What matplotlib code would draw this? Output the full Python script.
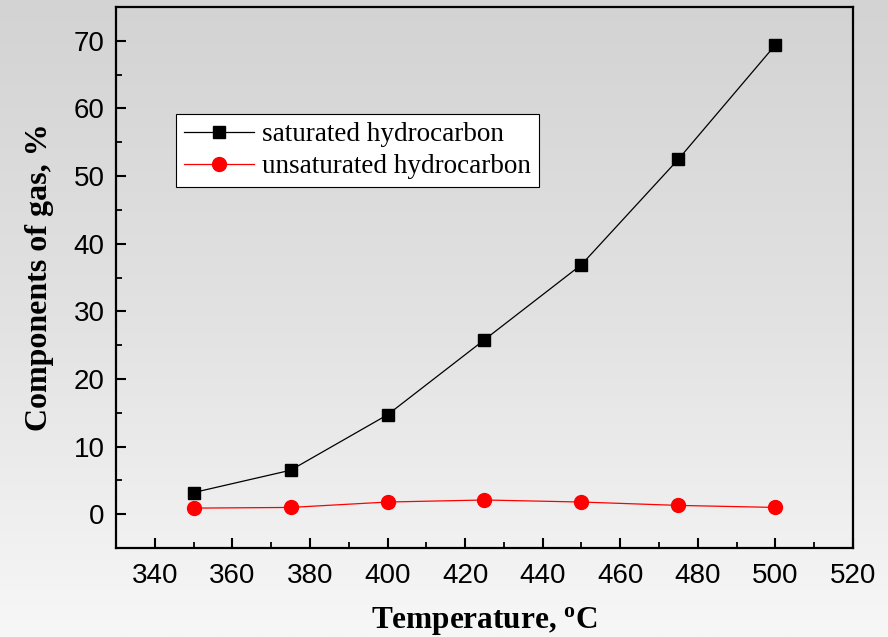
import numpy as np
import matplotlib
matplotlib.use("Agg")
import matplotlib.pyplot as plt
from matplotlib.colors import LinearSegmentedColormap
from matplotlib.ticker import MultipleLocator

# temperature (deg C) and gas composition (%)
temperature = [350, 375, 400, 425, 450, 475, 500]
saturated = [3.2, 6.5, 14.7, 25.8, 36.9, 52.5, 69.4]
unsaturated = [0.9, 1.0, 1.8, 2.1, 1.8, 1.3, 1.0]

plt.rcParams["mathtext.fontset"] = "custom"
plt.rcParams["mathtext.rm"] = "Liberation Serif"
plt.rcParams["mathtext.bf"] = "Liberation Serif:bold"

fig = plt.figure(figsize=(8.88, 6.37), dpi=100)

# soft grey background, darker towards the top
bg = fig.add_axes([0, 0, 1, 1], zorder=-10)
grad = np.linspace(0, 1, 256).reshape(-1, 1)
cmap = LinearSegmentedColormap.from_list("bg", ["#d3d3d3", "#e2e2e2", "#f7f7f7"])
bg.imshow(grad, aspect="auto", cmap=cmap, extent=[0, 1, 0, 1], origin="upper")
bg.axis("off")

ax = fig.add_axes([0.1306, 0.1397, 0.8300, 0.8493])
ax.patch.set_alpha(0)

ax.plot(temperature, saturated, color="black", lw=0.9, marker="s", ms=8.5,
        label="saturated hydrocarbon")
ax.plot(temperature, unsaturated, color="red", lw=0.9, marker="o", ms=10,
        label="unsaturated hydrocarbon")

ax.set_xlim(330, 520)
ax.set_ylim(-5, 75)
ax.xaxis.set_major_locator(MultipleLocator(20))
ax.xaxis.set_minor_locator(MultipleLocator(10))
ax.yaxis.set_major_locator(MultipleLocator(10))
ax.yaxis.set_minor_locator(MultipleLocator(5))
ax.set_xticks(range(340, 521, 20))

for s in ax.spines.values():
    s.set_linewidth(1.6)
ax.tick_params(which="major", direction="in", length=7, width=1.5,
               labelsize=20, pad=8)
ax.tick_params(axis="x", which="major", pad=11)
ax.tick_params(which="minor", direction="in", length=4, width=1.3)
for lab in ax.get_xticklabels() + ax.get_yticklabels():
    lab.set_fontfamily("Liberation Sans")

ax.set_xlabel("Temperature, $\\mathbf{^o}$C", fontfamily="Liberation Serif",
              fontweight="bold", fontsize=22.5, labelpad=11)
ax.set_ylabel("Components of gas, %", fontfamily="Liberation Serif",
              fontweight="bold", fontsize=23, labelpad=14)

leg = ax.legend(loc="upper left", bbox_to_anchor=(0.081, 0.802), borderaxespad=0,
                prop={"family": "Liberation Serif", "size": 19.5}, fancybox=False,
                framealpha=1, edgecolor="black", handlelength=2.6,
                handletextpad=0.3, borderpad=0.3, labelspacing=0.25)
leg.get_frame().set_linewidth(0.8)

fig.savefig("out.png", dpi=100)
